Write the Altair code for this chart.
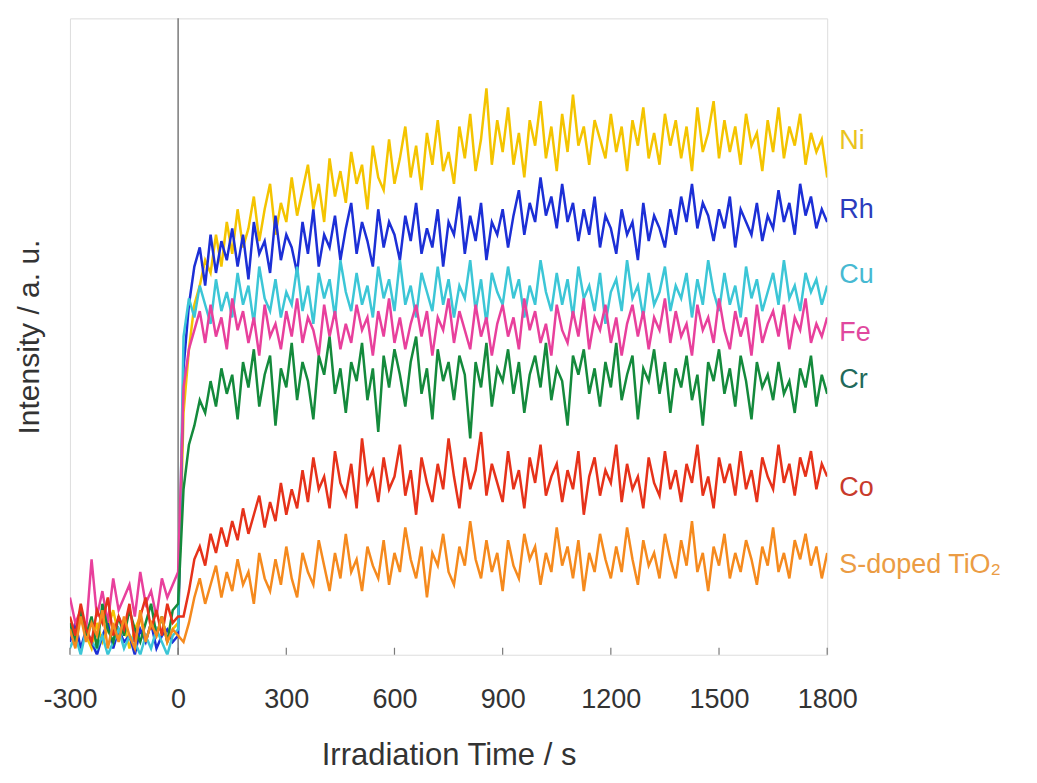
import altair as alt
import pandas as pd

times = list(range(-300, 1801, 15))

ni_pre = [4, 2, 6, 3, 1, 5, 2, 4, 7, 3, 5, 1, 4, 6, 2, 5, 3, 6, 2, 4, 5]
rh_pre = [2, 5, 1, 4, 2, 0, 3, 5, 1, 4, 2, 3, 0, 4, 2, 5, 1, 3, 4, 2, 3]
cu_pre = [1, 3, 0, 4, 2, 1, 3, 0, 2, 4, 1, 3, 2, 0, 3, 1, 4, 2, 0, 3, 4]
fe_pre = [9, 5, 7, 4, 15, 6, 10, 5, 12, 7, 9, 11, 6, 13, 8, 10, 6, 12, 9, 11, 13]
cr_pre = [5, 2, 7, 3, 6, 1, 8, 4, 2, 6, 3, 7, 4, 2, 5, 8, 3, 6, 2, 7, 8]
co_pre = [6, 3, 8, 4, 2, 7, 5, 9, 3, 6, 4, 8, 2, 6, 9, 4, 7, 3, 8, 5, 6]
s_pre = [4, 1, 6, 2, 5, 3, 7, 1, 5, 2, 6, 3, 1, 7, 2, 5, 3, 6, 2, 4, 3]

ni_post = [38, 48, 55, 58, 62, 60, 66, 61, 68, 63,
           70, 64, 67, 72, 65, 70, 74, 66, 71, 68,
           75, 69, 73, 77, 70, 74, 68, 78, 72, 76,
           71, 79, 74, 77, 70, 80, 75, 73, 81, 74,
           78, 83, 75, 80, 73, 82, 77, 84, 76, 79,
           74, 83, 78, 85, 76, 81, 89, 77, 84, 79,
           86, 77, 82, 75, 84, 80, 87, 78, 83, 76,
           85, 79, 88, 80, 83, 77, 84, 81, 78, 85,
           79, 83, 76, 84, 80, 86, 78, 82, 77, 85,
           80, 84, 78, 83, 76, 86, 79, 82, 87, 78,
           84, 79, 83, 77, 85, 80, 82, 76, 84, 79,
           86, 78, 83, 80, 85, 77, 82, 79, 81, 75]
rh_post = [45, 55, 61, 64, 58, 66, 60, 65, 62, 67,
           61, 66, 59, 68, 63, 65, 60, 69, 62, 66,
           64, 60, 68, 63, 70, 61, 66, 64, 69, 62,
           67, 71, 63, 68, 65, 61, 70, 64, 68, 66,
           62, 69, 65, 71, 63, 67, 64, 70, 61, 68,
           66, 72, 63, 69, 65, 71, 62, 68, 66, 70,
           64, 69, 73, 66, 71, 68, 75, 69, 72, 67,
           74, 68, 71, 65, 70, 66, 72, 64, 69, 67,
           63, 70, 66, 68, 62, 71, 65, 69, 67, 64,
           70, 66, 72, 68, 74, 67, 71, 69, 65, 70,
           67, 72, 64, 70, 68, 66, 71, 65, 69, 67,
           73, 68, 71, 66, 74, 69, 72, 67, 70, 68]
cu_post = [50, 56, 53, 58, 55, 52, 59, 54, 57, 53,
           60, 55, 58, 52, 61, 56, 54, 59, 53, 57,
           55, 61, 54, 58, 52, 60, 56, 59, 53, 62,
           57, 54, 60, 55, 58, 53, 61, 56, 59, 54,
           62, 55, 58, 53, 60, 57, 54, 61, 55, 59,
           53, 58, 56, 62, 54, 59, 52, 60, 57, 55,
           61, 56, 59, 53, 58, 55, 62, 57, 54, 60,
           55, 59, 53, 61, 56, 58, 54, 60, 52, 57,
           59, 54, 62, 56, 58, 53, 60, 55, 57, 61,
           54, 58, 56, 60, 53, 59, 55, 62, 57, 54,
           60, 55, 58, 53, 61, 56, 59, 54, 57, 60,
           55, 62, 56, 58, 54, 60, 57, 59, 55, 58]
fe_post = [42, 48, 51, 54, 49, 55, 50, 53, 48, 56,
           51, 54, 49, 53, 47, 55, 50, 52, 48, 54,
           50, 56, 49, 53, 51, 47, 55, 50, 54, 48,
           52, 49, 55, 51, 53, 47, 54, 50, 56, 49,
           53, 48, 52, 55, 50, 54, 47, 53, 51, 56,
           49, 54, 51, 48, 55, 50, 53, 47, 52, 55,
           50, 53, 48, 56, 51, 54, 49, 52, 47, 55,
           51, 49, 54, 50, 56, 48, 53, 51, 55, 49,
           53, 47, 52, 55, 50, 54, 48, 53, 51, 56,
           49, 54, 50, 52, 47, 55, 51, 53, 49, 56,
           51, 48, 54, 50, 53, 47, 55, 49, 52, 54,
           50, 55, 48, 53, 51, 56, 49, 52, 50, 53]
cr_post = [26, 33, 36, 40, 38, 43, 39, 45, 41, 44,
           37, 46, 42, 48, 39, 44, 47, 36, 45, 42,
           49, 40, 46, 43, 37, 47, 44, 50, 41, 45,
           38, 46, 43, 49, 40, 45, 35, 47, 42, 48,
           44, 39, 46, 50, 41, 45, 37, 48, 43, 46,
           40, 47, 44, 34, 46, 42, 49, 39, 45, 43,
           48, 41, 46, 38, 44, 47, 42, 49, 40, 45,
           43, 36, 47, 44, 48, 41, 45, 39, 46, 42,
           49, 40, 44, 47, 37, 45, 43, 48, 41, 46,
           38, 45, 42, 47, 40, 44, 36, 46, 43, 48,
           41, 45, 39, 47, 43, 37, 46, 42, 44, 40,
           46, 41, 43, 38, 45, 42, 47, 39, 44, 41]
co_post = [6, 10, 15, 17, 14, 19, 16, 20, 17, 21,
           18, 23, 19, 22, 25, 20, 24, 21, 27, 22,
           26, 23, 29, 24, 31, 26, 28, 23, 32, 27,
           25, 30, 23, 34, 27, 29, 24, 31, 26, 28,
           33, 25, 29, 22, 31, 27, 24, 30, 26, 34,
           28, 23, 31, 26, 29, 35, 25, 30, 27, 24,
           32, 26, 29, 23, 31, 27, 33, 25, 28, 30,
           24, 29, 26, 32, 22, 28, 31, 25, 29, 27,
           33, 24, 30, 26, 28, 23, 31, 27, 25, 32,
           26, 29, 24, 30, 27, 33, 25, 28, 23, 31,
           27, 30, 25, 32, 26, 29, 24, 31, 28, 26,
           33, 27, 30, 25, 31, 28, 32, 26, 30, 28]
s_post = [2, 5, 9, 12, 8, 11, 14, 9, 13, 10,
          15, 11, 13, 8, 16, 12, 10, 15, 11, 17,
          12, 9, 16, 13, 11, 18, 14, 10, 16, 12,
          19, 13, 15, 10, 17, 14, 12, 18, 11, 16,
          13, 20, 15, 12, 17, 9, 16, 14, 19, 13,
          11, 17, 14, 21, 15, 12, 18, 13, 16, 10,
          18, 14, 12, 19, 15, 17, 11, 16, 13, 20,
          14, 17, 12, 18, 10, 16, 13, 19, 15, 12,
          17, 13, 20, 15, 11, 18, 14, 16, 12, 19,
          15, 12, 18, 14, 21, 13, 16, 10, 17, 14,
          19, 12, 16, 13, 18, 15, 11, 17, 14, 20,
          13, 16, 12, 18, 15, 19, 14, 17, 12, 16]

names = ["Ni", "Rh", "Cu", "Fe", "Cr", "Co", "S-doped TiO\u2082"]
values = [ni_pre + ni_post, rh_pre + rh_post, cu_pre + cu_post, fe_pre + fe_post,
          cr_pre + cr_post, co_pre + co_post, s_pre + s_post]
line_colors = ["#f4c400", "#1c2fd6", "#3cc6d6", "#e8409c", "#148a3c", "#e6321a", "#f58a1e"]
label_colors = ["#e9c31e", "#2b3cbd", "#47b9d2", "#e0489e", "#22695a", "#c83a2c", "#eb9c44"]
label_levels = [80.8, 69.9, 59.7, 50.5, 43.2, 26.2, 14.1]

x_ticks = [-300, 0, 300, 600, 900, 1200, 1500, 1800]

FONT = "Liberation Sans"
W, H = 758, 637

xscale = alt.Scale(domain=[-300, 1800], nice=False, zero=False)
yscale = alt.Scale(domain=[0, 100], nice=False, zero=False)

layers = []
zero_rule = alt.Chart(pd.DataFrame({"t": [0]})).mark_rule(color="#7a7a7a", strokeWidth=1.5).encode(
    x=alt.X("t:Q", scale=xscale,
            axis=alt.Axis(values=x_ticks, title="Irradiation Time / s", grid=False,
                          ticks=False, domain=False, labelFontSize=27,
                          labelColor="#333333", labelFont=FONT, labelPadding=32,
                          labelExpr="'' + datum.value",
                          titleFont=FONT, titleFontSize=31, titleColor="#333333",
                          titleFontWeight="normal", titlePadding=28,
                          labelFlush=False)),
    y=alt.value(0), y2=alt.value(H))
layers.append(zero_rule)

for i, (nm, vals, col) in enumerate(zip(names, values, line_colors)):
    df = pd.DataFrame({"t": times, "v": vals})
    base = alt.Chart(df).mark_line(color=col, strokeWidth=2.5, clip=True)
    if i == 0:
        enc = base.encode(
            x=alt.X("t:Q", scale=xscale),
            y=alt.Y("v:Q", scale=yscale,
                    axis=alt.Axis(title="Intensity / a. u.", labels=False, ticks=False,
                                  domain=False, grid=False, titleFont=FONT, titleFontSize=30,
                                  titleColor="#333333", titleFontWeight="normal",
                                  titlePadding=25)),
        )
    else:
        enc = base.encode(x=alt.X("t:Q", scale=xscale), y=alt.Y("v:Q", scale=yscale))
    layers.append(enc)

tick_df = pd.DataFrame({"t": x_ticks})
tick_rules = alt.Chart(tick_df).mark_rule(color="#7a7a7a", strokeWidth=1.2).encode(
    x=alt.X("t:Q", scale=xscale), y=alt.value(H), y2=alt.value(H - 7))
layers.append(tick_rules)

lab_df = pd.DataFrame({"name": names, "lv": label_levels, "t": [1800] * len(names),
                       "col": label_colors})
labels = alt.Chart(lab_df).mark_text(align="left", baseline="middle", dx=12, fontSize=27,
                                     font=FONT).encode(
    x=alt.X("t:Q", scale=xscale), y=alt.Y("lv:Q", scale=yscale),
    text="name:N", color=alt.Color("col:N", scale=None))
layers.append(labels)

chart = alt.layer(*layers).properties(
    width=W, height=H,
    autosize=alt.AutoSizeParams(type="none"),
    padding={"left": 62, "top": 10, "right": 202, "bottom": 120},
).configure_view(stroke="#8a8a8a", strokeWidth=1.5).configure(background="white")

chart.save("out.html", embed_options={"renderer": "svg", "actions": False})
